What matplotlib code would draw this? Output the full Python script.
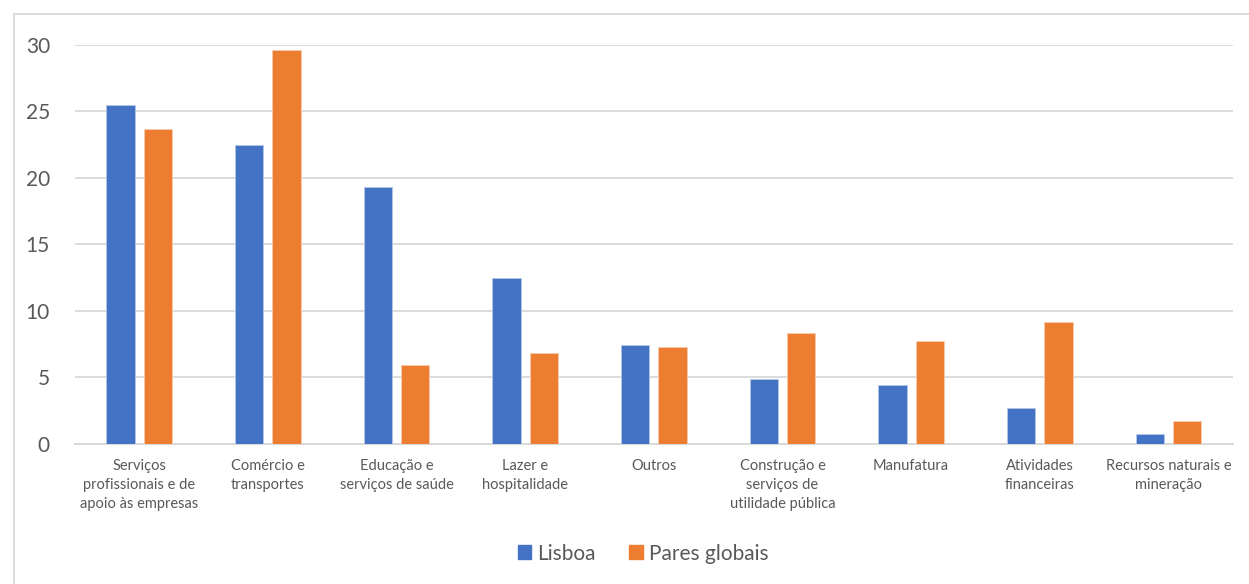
import numpy as np
import matplotlib.pyplot as plt
from matplotlib.patches import Patch
from matplotlib.lines import Line2D

# sector shares (%)
categories = [
    "Serviços\nprofissionais e de\napoio às empresas",
    "Comércio e\ntransportes",
    "Educação e\nserviços de saúde",
    "Lazer e\nhospitalidade",
    "Outros",
    "Construção e\nserviços de\nutilidade pública",
    "Manufatura",
    "Atividades\nfinanceiras",
    "Recursos naturais e\nmineração",
]
lisboa = [25.5, 22.5, 19.3, 12.5, 7.4, 4.9, 4.4, 2.7, 0.75]
pares_globais = [23.7, 29.6, 5.9, 6.8, 7.3, 8.3, 7.7, 9.2, 1.7]

blue = "#4472C4"
orange = "#ED7D31"
grey_text = "#595959"

plt.rcParams["font.family"] = ["Lato", "DejaVu Sans"]

fig = plt.figure(figsize=(12.49, 5.84), dpi=100)
ax = fig.add_axes([0.06, 0.24, 0.927, 0.683])

x = np.arange(len(categories))
w = 0.22
off = 0.145
ax.bar(x - off, lisboa, w, color=blue, edgecolor="#b4c7e7", linewidth=0.6, zorder=3)
ax.bar(x + off, pares_globais, w, color=orange, edgecolor="#f8cbad", linewidth=0.6, zorder=3)

ax.set_xlim(-0.5, len(categories) - 0.5)
ax.set_ylim(0, 30)
ax.set_yticks(range(0, 31, 5))
ax.yaxis.grid(True, color="#d9d9d9", linewidth=1.3, zorder=0)
ax.set_axisbelow(True)
for s in ["top", "right", "left"]:
    ax.spines[s].set_visible(False)
ax.spines["bottom"].set_color("#d9d9d9")
ax.spines["bottom"].set_linewidth(1.5)

ax.set_xticks(x)
ax.set_xticklabels(categories, fontsize=10.5, color=grey_text, linespacing=1.45, va="top")
ax.tick_params(axis="x", length=0, pad=11)
ax.tick_params(axis="y", length=0, pad=18, labelsize=15, labelcolor=grey_text)

handles = [Patch(color=blue, label="Lisboa"), Patch(color=orange, label="Pares globais")]
fig.legend(handles=handles, loc="center", bbox_to_anchor=(0.515, 0.052), ncol=2,
           frameon=False, fontsize=15, labelcolor=grey_text, handlelength=0.65,
           handleheight=0.65, handletextpad=0.3, columnspacing=1.6)

# outer chart frame
fig.add_artist(Line2D([14 / 1249, 14 / 1249], [0, 1 - 14 / 584], transform=fig.transFigure,
                      color="#d9d9d9", linewidth=1.3))
fig.add_artist(Line2D([14 / 1249, 1], [1 - 14 / 584, 1 - 14 / 584], transform=fig.transFigure,
                      color="#d9d9d9", linewidth=1.3))

fig.savefig("out.png", dpi=100)
